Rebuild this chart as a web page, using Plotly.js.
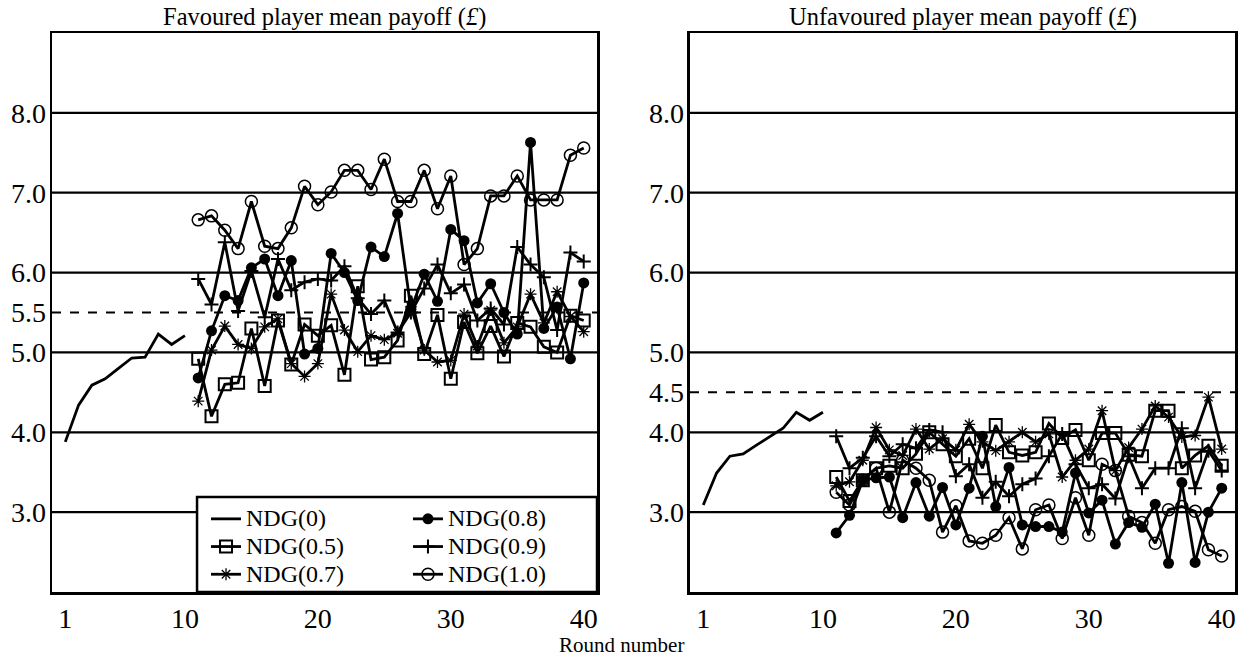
<!DOCTYPE html>
<html>
<head>
<meta charset="utf-8">
<script src="https://cdn.plot.ly/plotly-3.0.1.min.js"></script>
<style>html,body{margin:0;padding:0;background:#fff;}#chart{width:1243px;height:658px;}</style>
</head>
<body>
<div id="chart"></div>
<script>
// Rounds
const roundsEarly = [1,2,3,4,5,6,7,8,9,10];
const roundsLate = [11,12,13,14,15,16,17,18,19,20,21,22,23,24,25,26,27,28,29,30,31,32,33,34,35,36,37,38,39,40];

// Favoured player mean payoff (£)
const favNDG0  = [3.88,4.34,4.59,4.67,4.80,4.93,4.94,5.23,5.10,5.21];
const favNDG05 = [4.92,4.20,4.60,4.62,5.30,4.58,5.40,4.85,5.35,5.21,5.34,4.72,5.83,4.91,4.94,5.15,5.71,4.98,5.47,4.67,5.38,4.99,5.33,4.95,5.37,5.32,5.07,5.00,5.46,5.40];
const favNDG07 = [4.39,5.03,5.33,5.10,5.05,5.32,5.42,4.86,4.70,4.86,5.73,5.28,5.01,5.21,5.16,5.24,5.57,5.03,4.88,4.90,5.48,5.08,5.53,5.12,5.32,5.73,5.37,5.76,5.45,5.26];
const favNDG08 = [4.68,5.27,5.71,5.65,6.06,6.17,5.71,6.15,4.98,5.05,6.24,6.00,5.65,6.32,6.20,6.74,5.54,5.98,5.64,6.54,6.40,5.62,5.86,5.50,5.23,7.63,5.30,5.57,4.92,5.87];
const favNDG09 = [5.92,5.60,6.38,5.52,6.02,5.44,6.17,5.78,5.88,5.92,5.90,6.08,5.68,5.48,5.65,5.25,5.50,5.80,6.10,5.74,5.85,5.40,5.55,5.35,6.32,6.10,5.94,5.28,6.25,6.14];
const favNDG10 = [6.66,6.71,6.53,6.30,6.89,6.33,6.30,6.56,7.08,6.85,7.01,7.28,7.28,7.04,7.42,6.89,6.89,7.28,6.80,7.21,6.10,6.30,6.96,6.96,7.21,6.91,6.91,6.91,7.47,7.56];

// Unfavoured player mean payoff (£)
const unfNDG0  = [3.09,3.49,3.70,3.73,3.84,3.95,4.05,4.25,4.15,4.25];
const unfNDG05 = [3.44,3.14,3.40,3.55,3.58,3.55,3.73,4.00,3.85,3.70,3.92,3.55,4.09,3.75,3.71,3.75,4.11,3.93,4.03,3.65,3.99,3.99,3.72,3.70,4.27,4.27,3.55,3.71,3.83,3.58];
const unfNDG07 = [3.33,3.38,3.65,4.06,3.78,3.71,4.04,3.79,3.92,3.78,4.10,3.88,3.77,3.88,4.00,3.88,3.98,3.44,3.65,3.79,4.27,3.52,3.81,4.04,4.33,4.19,3.94,3.96,4.44,3.79];
const unfNDG08 = [2.74,2.96,3.40,3.43,3.44,2.93,3.37,2.95,3.31,2.84,3.30,3.95,3.07,3.56,2.84,2.82,2.82,2.75,3.49,2.99,3.15,2.60,2.87,2.81,3.10,2.36,3.37,2.37,3.00,3.30];
const unfNDG09 = [3.95,3.55,3.68,3.95,3.70,3.85,3.80,4.03,4.00,3.45,3.60,3.18,3.38,3.20,3.35,3.42,3.70,3.98,3.60,3.30,3.35,3.17,3.70,3.30,3.55,3.55,4.05,3.30,3.77,3.52];
const unfNDG10 = [3.25,3.09,3.40,3.55,3.00,3.65,3.55,3.40,2.75,3.08,2.64,2.61,2.71,2.93,2.54,3.03,3.09,2.67,3.18,2.71,3.60,3.52,2.95,2.87,2.61,3.03,3.07,3.01,2.53,2.45];

// Tick labels
const xTicks = [1,10,20,30,40];
const favYTicks = [3,4,5,5.5,6,7,8];
const favYText = ['3.0','4.0','5.0','5.5','6.0','7.0','8.0'];
const unfYTicks = [3,4,4.5,5,6,7,8];
const unfYText = ['3.0','4.0','4.5','5.0','6.0','7.0','8.0'];
const gridVals = [3,4,5,6,7,8];
const favRef = 5.5, unfRef = 4.5;

const seriesNames = ['NDG(0)','NDG(0.5)','NDG(0.7)','NDG(0.8)','NDG(0.9)','NDG(1.0)'];

const FONT = 'Liberation Serif';
const markers = [
  null,
  {symbol:'square-open', size:12, color:'#000', line:{width:2, color:'#000'}},
  {symbol:'asterisk-open', size:10, color:'#000', line:{width:1.3, color:'#000'}},
  {symbol:'circle', size:11, color:'#000', line:{width:0}},
  {symbol:'cross-thin-open', size:10, color:'#000', line:{width:2, color:'#000'}},
  {symbol:'circle-open', size:12, color:'#000', line:{width:1.5, color:'#000'}}
];
const legendOf = ['legend','legend','legend','legend2','legend2','legend2'];

const favData = [favNDG0, favNDG05, favNDG07, favNDG08, favNDG09, favNDG10];
const unfData = [unfNDG0, unfNDG05, unfNDG07, unfNDG08, unfNDG09, unfNDG10];

const traces = [];
function addTraces(dataArr, xa, ya, showLeg) {
  dataArr.forEach((ys, i) => {
    const t = {
      type:'scatter',
      x: i === 0 ? roundsEarly : roundsLate,
      y: ys,
      name: '<span style="font-size:24px">' + seriesNames[i] + '</span>',
      xaxis: xa, yaxis: ya,
      mode: i === 0 ? 'lines' : 'lines+markers',
      line: {color:'#000', width:2.8},
      showlegend: showLeg,
      legend: legendOf[i],
      hoverinfo:'skip'
    };
    if (markers[i]) t.marker = markers[i];
    traces.push(t);
  });
}
addTraces(favData, 'x', 'y', true);
addTraces(unfData, 'x2', 'y2', false);

const shapes = [];
gridVals.forEach(v => {
  shapes.push({type:'line', xref:'x domain', yref:'y', x0:0, x1:1, y0:v, y1:v, line:{color:'#000', width:2.2}, layer:'below'});
  shapes.push({type:'line', xref:'x2 domain', yref:'y2', x0:0, x1:1, y0:v, y1:v, line:{color:'#000', width:2.2}, layer:'below'});
});
shapes.push({type:'line', xref:'x domain', yref:'y', x0:0, x1:1, y0:favRef, y1:favRef, line:{color:'#000', width:2, dash:'dash'}, layer:'below'});
shapes.push({type:'line', xref:'x2 domain', yref:'y2', x0:0, x1:1, y0:unfRef, y1:unfRef, line:{color:'#000', width:2, dash:'dash'}, layer:'below'});
// legend box
shapes.push({type:'rect', xref:'paper', yref:'paper', x0:0.1226, x1:0.4607, y0:0, y1:0.17, fillcolor:'#fff', line:{color:'#000', width:2.5}, layer:'above'});

const axisBase = {
  showline:true, mirror:true, linecolor:'#000', linewidth:2.5,
  ticks:'', showgrid:false, zeroline:false,
  tickfont:{family:FONT, size:28, color:'#000'}
};

const legendBase = {
  bgcolor:'rgba(0,0,0,0)', borderwidth:0,
  font:{family:FONT, size:19, color:'#000'},
  yanchor:'middle', xanchor:'left', y:0.0805,
  tracegroupgap:0, itemwidth:30, itemclick:false, itemdoubleclick:false
};

const layout = {
  width:1243, height:658,
  margin:{l:52, r:8, t:33, b:66},
  paper_bgcolor:'#fff', plot_bgcolor:'#fff',
  font:{family:FONT, color:'#000'},
  xaxis: Object.assign({}, axisBase, {domain:[0,0.4607], range:[0,41], tickvals:xTicks, anchor:'y'}),
  yaxis: Object.assign({}, axisBase, {range:[2,9], tickvals:favYTicks, ticktext:favYText, anchor:'x', ticklabelstandoff:-2}),
  xaxis2: Object.assign({}, axisBase, {domain:[0.5393,1], range:[0,41], tickvals:xTicks, anchor:'y2'}),
  yaxis2: Object.assign({}, axisBase, {range:[2,9], tickvals:unfYTicks, ticktext:unfYText, anchor:'x2', ticklabelstandoff:-2}),
  legend: Object.assign({}, legendBase, {x:0.1302}),
  legend2: Object.assign({}, legendBase, {x:0.3009}),
  shapes: shapes,
  annotations: [
    {text:'Favoured player mean payoff (<i>£</i>)', xref:'paper', yref:'paper', x:0.2303, y:1.0286, xanchor:'center', yanchor:'middle', showarrow:false, font:{family:FONT, size:24.5, color:'#000'}},
    {text:'Unfavoured player mean payoff (<i>£</i>)', xref:'paper', yref:'paper', x:0.7697, y:1.0286, xanchor:'center', yanchor:'middle', showarrow:false, font:{family:FONT, size:24.5, color:'#000'}},
    {text:'Round number', xref:'paper', yref:'paper', x:0.481, y:-0.0948, xanchor:'center', yanchor:'middle', showarrow:false, font:{family:FONT, size:21, color:'#000'}}
  ],
  showlegend:true
};

Plotly.newPlot('chart', traces, layout, {staticPlot:true, displayModeBar:false});
</script>
</body>
</html>
